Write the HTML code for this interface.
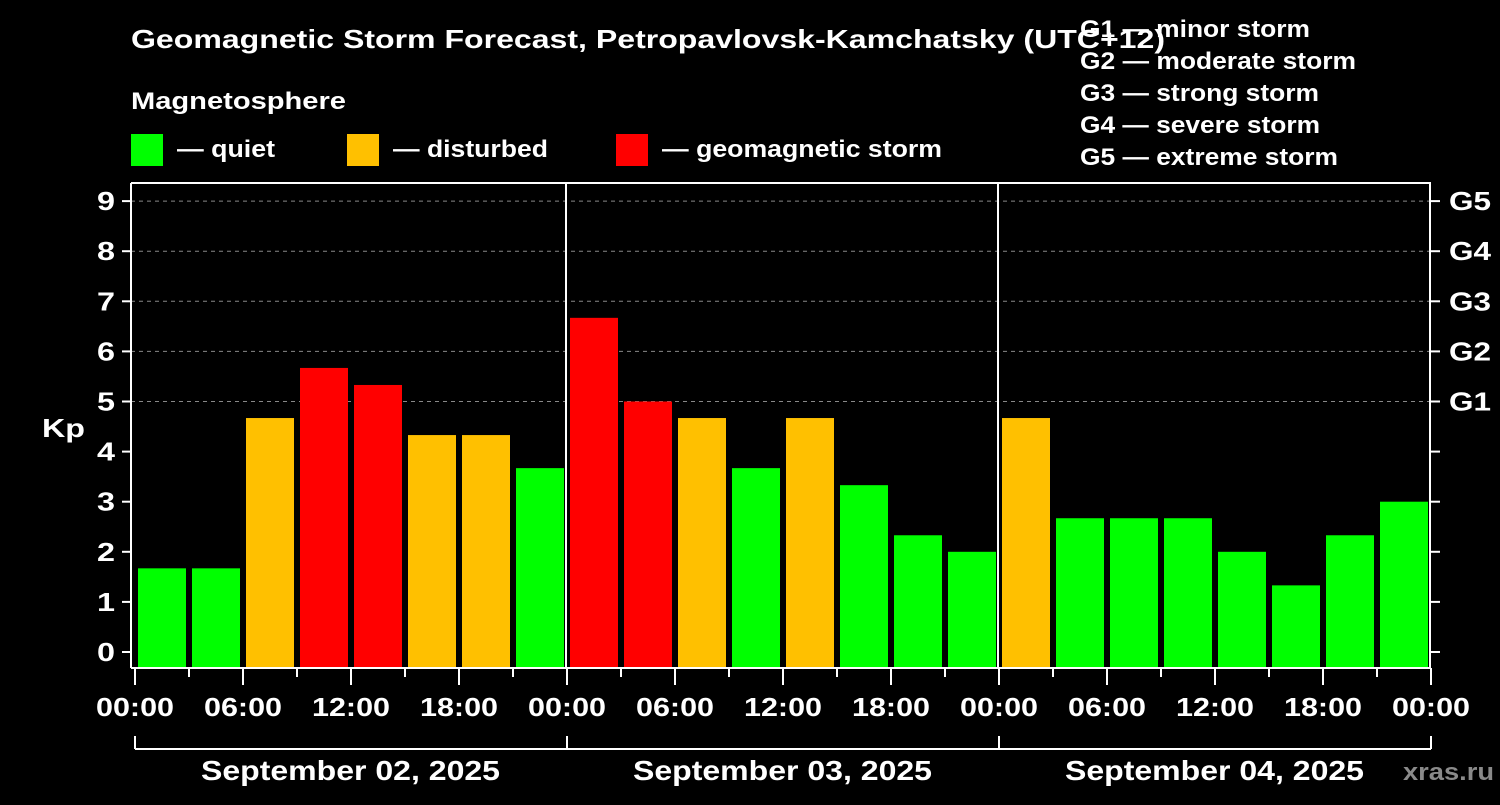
<!DOCTYPE html>
<html><head><meta charset="utf-8"><style>
body{margin:0;background:#000;width:1500px;height:800px;overflow:hidden}
text{font-family:"Liberation Sans",Arial,sans-serif;font-weight:bold;fill:#fff}
</style></head><body>
<svg id="c" width="1500" height="800" xmlns="http://www.w3.org/2000/svg">
<text x="131" y="48" font-size="26" textLength="1034" lengthAdjust="spacingAndGlyphs">Geomagnetic Storm Forecast, Petropavlovsk-Kamchatsky (UTC+12)</text>
<text x="131" y="109" font-size="24" textLength="215" lengthAdjust="spacingAndGlyphs">Magnetosphere</text>
<g><rect x="131" y="134" width="32" height="32" fill="#00ff00"/><text x="177" y="157" font-size="24" textLength="98" lengthAdjust="spacingAndGlyphs">— quiet</text></g>
<g><rect x="347" y="134" width="32" height="32" fill="#ffc000"/><text x="393" y="157" font-size="24" textLength="155" lengthAdjust="spacingAndGlyphs">— disturbed</text></g>
<g><rect x="616" y="134" width="32" height="32" fill="#ff0000"/><text x="662" y="157" font-size="24" textLength="280" lengthAdjust="spacingAndGlyphs">— geomagnetic storm</text></g>
<g font-size="24">
<text x="1080" y="37" textLength="230" lengthAdjust="spacingAndGlyphs">G1 — minor storm</text>
<text x="1080" y="69" textLength="276" lengthAdjust="spacingAndGlyphs">G2 — moderate storm</text>
<text x="1080" y="101" textLength="239" lengthAdjust="spacingAndGlyphs">G3 — strong storm</text>
<text x="1080" y="133" textLength="240" lengthAdjust="spacingAndGlyphs">G4 — severe storm</text>
<text x="1080" y="165" textLength="258" lengthAdjust="spacingAndGlyphs">G5 — extreme storm</text>
</g>
<text x="42" y="437" font-size="26" textLength="43" lengthAdjust="spacingAndGlyphs">Kp</text>
<text x="1403" y="780" font-size="24" textLength="91" lengthAdjust="spacingAndGlyphs" style="fill:#8a8a8a">xras.ru</text>
<g id="plot"></g>
</svg>
<script>
const kpValues=[1.67,1.67,4.67,5.67,5.33,4.33,4.33,3.67,6.67,5.0,4.67,3.67,4.67,3.33,2.33,2.0,4.67,2.67,2.67,2.67,2.0,1.33,2.33,3.0];
const dayLabels=["September 02, 2025","September 03, 2025","September 04, 2025"];
const hourLabels=["00:00","06:00","12:00","18:00"];
const yTicks=[0,1,2,3,4,5,6,7,8,9];
const gLabels=["G1","G2","G3","G4","G5"];
const NS="http://www.w3.org/2000/svg";
const g=document.getElementById('plot');
const X0=135,SLOT=54,L=131,R=1431,T=183,B=668;
const y=v=>652-v*50.1;
const x=i=>X0+i*SLOT;
function el(t,a,txt){const e=document.createElementNS(NS,t);for(const k in a)e.setAttribute(k,a[k]);if(txt!=null)e.textContent=txt;g.appendChild(e);return e;}
yTicks.forEach(v=>{
 if(v>=5){const e=el('line',{x1:L,x2:R,y1:y(v),y2:y(v),stroke:'#888','stroke-dasharray':'4,4','stroke-width':1});
 
 }
 el('line',{x1:L-9,x2:L,y1:y(v),y2:y(v),stroke:'#fff','stroke-width':2});
 el('line',{x1:R,x2:R+9,y1:y(v),y2:y(v),stroke:'#fff','stroke-width':2});
 const t=el('text',{x:115,y:y(v)+9,'font-size':26,'text-anchor':'end',textLength:18,lengthAdjust:'spacingAndGlyphs'},String(v));
 
 
});
gLabels.forEach((s,i)=>{const t=el('text',{x:1449,y:y(5+i)+9,'font-size':26,textLength:42,lengthAdjust:'spacingAndGlyphs'},s);
 
 });
kpValues.forEach((v,i)=>{
 const c=v>=5?'#ff0000':(v>=4?'#ffc000':'#00ff00');
 const r=el('rect',{x:x(i)+3,y:y(v),width:48,height:B-y(v),fill:c});
 
 
});
for(let d=0;d<=3;d++)el('line',{x1:x(d*8)-1+(d==0?-3:0),x2:x(d*8)-1+(d==0?-3:0),y1:T,y2:B,stroke:'#fff','stroke-width':2});
el('line',{x1:L,x2:R,y1:T,y2:T,stroke:'#fff','stroke-width':2});
el('line',{x1:L,x2:R,y1:B,y2:B,stroke:'#fff','stroke-width':2});
for(let i=0;i<=24;i++){
 const major=i%2==0;
 el('line',{x1:x(i),x2:x(i),y1:B,y2:B+(major?17:9),stroke:'#fff','stroke-width':2});
 if(major){const t=el('text',{x:x(i)-39,y:716,'font-size':26,textLength:78,lengthAdjust:'spacingAndGlyphs'},hourLabels[(i/2)%4]);
 
 }
}
dayLabels.forEach((s,d)=>{
 el('line',{x1:x(d*8),x2:x(d*8),y1:736,y2:749,stroke:'#fff','stroke-width':2});
 el('line',{x1:x(d*8),x2:x(d*8+8),y1:749,y2:749,stroke:'#fff','stroke-width':2});
 const t=el('text',{x:x(d*8+4)-150,y:780,'font-size':28,textLength:299,lengthAdjust:'spacingAndGlyphs'},s);
 
 
});
el('line',{x1:x(24),x2:x(24),y1:736,y2:749,stroke:'#fff','stroke-width':2});
</script>
</body></html>
